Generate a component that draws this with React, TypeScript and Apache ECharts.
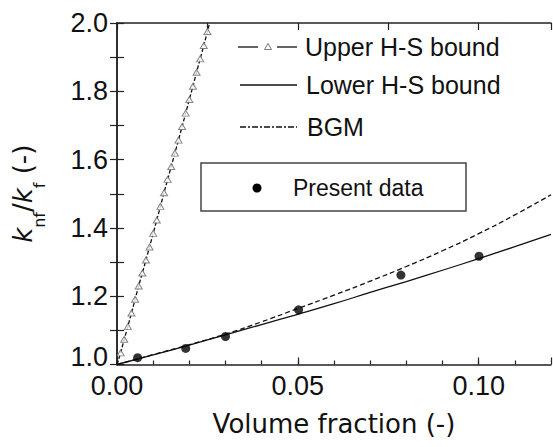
import React, { useEffect, useRef } from "react";
import * as echarts from "echarts";

// Upper Hashin-Shtrikman bound (triangles)
const upperX = [0.001, 0.002, 0.003, 0.004, 0.005, 0.006, 0.007, 0.008, 0.009, 0.010, 0.011, 0.012, 0.013, 0.014, 0.015, 0.016, 0.017, 0.018, 0.019, 0.020, 0.021, 0.022, 0.023, 0.024, 0.025];
const upperY = [1.034, 1.074, 1.111, 1.151, 1.191, 1.230, 1.268, 1.306, 1.344, 1.384, 1.423, 1.463, 1.503, 1.542, 1.580, 1.619, 1.657, 1.697, 1.736, 1.776, 1.815, 1.856, 1.895, 1.934, 1.975];
const upperStart = [0, 1.0];
const upperEnd = [0.0256, 2.0];

// Lower Hashin-Shtrikman bound (solid)
const lowerX = [0, 0.01, 0.02, 0.03, 0.04, 0.05, 0.06, 0.07, 0.08, 0.09, 0.10, 0.11, 0.12];
const lowerY = [1.0, 1.028, 1.057, 1.087, 1.117, 1.147, 1.178, 1.211, 1.243, 1.276, 1.310, 1.345, 1.381];

// BGM (dashed)
const bgmX = [0, 0.01, 0.02, 0.03, 0.04, 0.05, 0.06, 0.07, 0.08, 0.09, 0.10, 0.11, 0.12];
const bgmY = [1.0, 1.029, 1.058, 1.089, 1.125, 1.164, 1.203, 1.244, 1.287, 1.333, 1.383, 1.438, 1.497];

// Present data
const presentX = [0.0057, 0.019, 0.030, 0.0502, 0.0785, 0.1001];
const presentY = [1.020, 1.047, 1.082, 1.160, 1.262, 1.317];

const legendLabels = ["Upper H-S bound", "Lower H-S bound", "BGM", "Present data"];
const xTitle = "Volume fraction (-)";

const zip = (xs: number[], ys: number[]) => xs.map((x, i) => [x, ys[i]]);

export default function App() {
  const ref = useRef<HTMLDivElement>(null);
  useEffect(() => {
    if (!ref.current) return;
    const chart = echarts.init(ref.current, null, { renderer: "svg" });
    const axisColor = "#222";
    const tickFont = "Liberation Sans";
    const titleFont = "DejaVu Sans";
    const black = "#111";
    chart.setOption({
      animation: false,
      backgroundColor: "#fff",
      grid: { left: 117, right: 2, top: 23, bottom: 82.5, containLabel: false },
      xAxis: [
        {
          type: "value",
          min: 0,
          max: 0.12,
          interval: 0.01,
          position: "bottom",
          axisLine: { show: true, lineStyle: { color: axisColor, width: 1.5 } },
          axisTick: { show: true, inside: true, length: 4, lineStyle: { color: axisColor, width: 1.2 } },
          axisLabel: {
            formatter: (v: number) => (Math.round(v * 100) % 5 === 0 ? v.toFixed(2) : ""),
            fontSize: 27,
            fontFamily: tickFont,
            color: black,
            margin: 8,
            showMaxLabel: false,
          },
          splitLine: { show: false },
          name: xTitle,
          nameLocation: "middle",
          nameGap: 46,
          nameTextStyle: { fontFamily: titleFont, fontSize: 26, color: black },
        },
        {
          type: "value",
          min: 0,
          max: 0.12,
          interval: 0.05,
          position: "bottom",
          axisLine: { show: false },
          axisTick: { show: true, inside: true, length: 7, lineStyle: { color: axisColor, width: 1.2 } },
          axisLabel: { show: false },
          splitLine: { show: false },
        },
        {
          type: "value",
          min: 0,
          max: 0.12,
          interval: 0.025,
          position: "top",
          axisLine: { show: true, lineStyle: { color: axisColor, width: 1.5 } },
          axisTick: { show: true, inside: true, length: 7, lineStyle: { color: axisColor, width: 1.2 } },
          axisLabel: { show: false },
          splitLine: { show: false },
        },
      ],
      yAxis: [
        {
          type: "value",
          min: 1,
          max: 2,
          interval: 0.1,
          position: "left",
          axisLine: { show: true, lineStyle: { color: axisColor, width: 1.5 } },
          axisTick: { show: true, inside: true, length: 7, lineStyle: { color: axisColor, width: 1.2 } },
          axisLabel: {
            formatter: (v: number) => {
              const t = Math.round(v * 10);
              if (t % 2 !== 0) return "";
              return t === 10 ? "{low|" + v.toFixed(1) + "}" : v.toFixed(1);
            },
            fontSize: 27,
            fontFamily: tickFont,
            color: black,
            margin: 9,
            rich: {
              low: { fontSize: 27, fontFamily: tickFont, color: black, padding: [0, 0, 16, 0] },
            },
          },
          splitLine: { show: false },
          name: "{i|k}{s|nf}{n|/}{i|k}{s|f}{n| (-)}",
          nameLocation: "middle",
          nameRotate: 90,
          nameGap: 70,
          nameTextStyle: {
            fontFamily: titleFont,
            fontSize: 26,
            color: black,
            rich: {
              i: { fontFamily: titleFont, fontSize: 26, fontStyle: "italic", color: black, verticalAlign: "top", lineHeight: 30 },
              n: { fontFamily: titleFont, fontSize: 26, color: black, verticalAlign: "top", lineHeight: 30 },
              s: { fontFamily: titleFont, fontSize: 16, color: black, verticalAlign: "bottom", lineHeight: 37 },
            },
          },
        },
        {
          type: "value",
          min: 1,
          max: 2,
          interval: 0.1,
          position: "right",
          axisLine: { show: true, lineStyle: { color: axisColor, width: 1.5 } },
          axisTick: { show: true, inside: true, length: 7, lineStyle: { color: axisColor, width: 1.2 } },
          axisLabel: { show: false },
          splitLine: { show: false },
        },
      ],
      series: [
        {
          name: legendLabels[0] + " line",
          type: "line",
          data: [upperStart, ...zip(upperX, upperY), upperEnd],
          showSymbol: false,
          symbol: "none",
          lineStyle: { color: black, width: 1.3, type: [4, 2] },
          z: 3,
        },
        {
          name: legendLabels[0],
          type: "scatter",
          data: zip(upperX, upperY),
          symbol: "triangle",
          symbolSize: [7, 6],
          itemStyle: { color: "#fff", borderColor: "#666", borderWidth: 1 },
          z: 4,
        },
        {
          name: legendLabels[1],
          type: "line",
          data: zip(lowerX, lowerY),
          showSymbol: false,
          symbol: "none",
          smooth: true,
          lineStyle: { color: black, width: 1.3 },
        },
        {
          name: legendLabels[2],
          type: "line",
          data: zip(bgmX, bgmY),
          showSymbol: false,
          symbol: "none",
          smooth: true,
          lineStyle: { color: black, width: 1.3, type: [5, 3] },
        },
        {
          name: legendLabels[3],
          type: "scatter",
          data: zip(presentX, presentY),
          symbol: "circle",
          symbolSize: 9,
          itemStyle: { color: "#000" },
          z: 5,
        },
      ],
      graphic: [
        // legend entries
        { type: "line", shape: { x1: 238, y1: 47, x2: 258, y2: 47 }, style: { stroke: black, lineWidth: 1.3 } },
        { type: "polygon", shape: { points: [[268, 43.5], [264.5, 49.5], [271.5, 49.5]] }, style: { fill: "#fff", stroke: "#777", lineWidth: 1 } },
        { type: "line", shape: { x1: 277, y1: 47, x2: 297, y2: 47 }, style: { stroke: black, lineWidth: 1.3 } },
        { type: "text", x: 305, y: 47, style: { text: legendLabels[0], fontFamily: tickFont, fontSize: 25, fill: black, verticalAlign: "middle" } },
        { type: "line", shape: { x1: 240, y1: 85, x2: 297, y2: 85 }, style: { stroke: black, lineWidth: 1.3 } },
        { type: "text", x: 306, y: 85, style: { text: legendLabels[1], fontFamily: tickFont, fontSize: 25, fill: black, verticalAlign: "middle" } },
        { type: "line", shape: { x1: 240, y1: 127, x2: 297, y2: 127 }, style: { stroke: black, lineWidth: 1.3, lineDash: [6, 2, 2, 2] } },
        { type: "text", x: 307, y: 127, style: { text: legendLabels[2], fontFamily: tickFont, fontSize: 25, fill: black, verticalAlign: "middle" } },
        { type: "rect", shape: { x: 201, y: 163, width: 265, height: 48 }, style: { fill: "none", stroke: "#444", lineWidth: 1.5 } },
        { type: "circle", shape: { cx: 257, cy: 188, r: 4.5 }, style: { fill: "#000" } },
        { type: "text", x: 293, y: 188, style: { text: legendLabels[3], fontFamily: tickFont, fontSize: 23, fill: black, verticalAlign: "middle" } },
      ],
    });
    return () => chart.dispose();
  }, []);
  return <div ref={ref} style={{ position: "absolute", left: 0, top: 0, width: 553, height: 447 }} />;
}
